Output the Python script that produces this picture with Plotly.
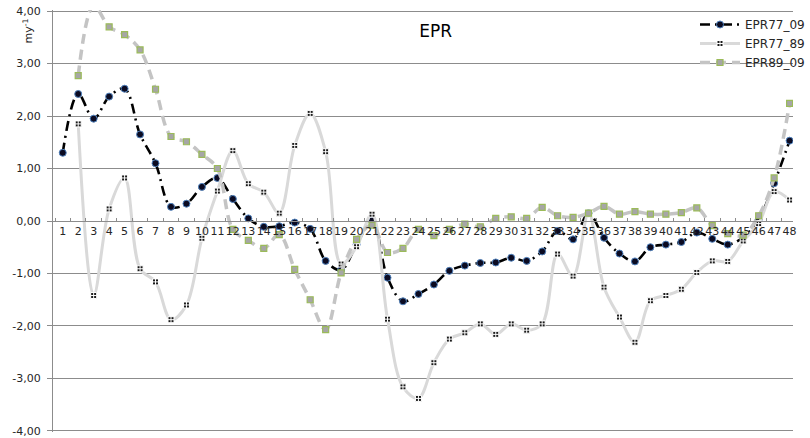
import plotly.graph_objects as go

# Point numbers along the shoreline (transects 1..48)
transects = [str(i) for i in range(1, 49)]

# End Point Rate, m/yr, per transect
epr77_09 = [1.30, 2.42, 1.95, 2.37, 2.52, 1.65, 1.10, 0.27, 0.33, 0.65,
            0.82, 0.42, 0.05, -0.11, -0.10, -0.03, -0.15, -0.76, -0.93, -0.45,
            0.01, -1.08, -1.53, -1.39, -1.21, -0.95, -0.85, -0.80, -0.79, -0.70,
            -0.76, -0.58, -0.19, -0.35, 0.15, -0.32, -0.62, -0.77, -0.50, -0.45,
            -0.40, -0.22, -0.34, -0.45, -0.31, 0.03, 0.72, 1.53]

epr77_89 = [None, 1.85, -1.42, 0.23, 0.82, -0.91, -1.16, -1.88, -1.60, -0.33,
            0.57, 1.34, 0.71, 0.55, 0.15, 1.44, 2.05, 1.32, -0.82, -0.49,
            0.13, -1.87, -3.16, -3.38, -2.70, -2.25, -2.13, -1.96, -2.16, -1.96,
            -2.08, -1.96, -0.63, -1.05, 0.15, -1.26, -1.83, -2.31, -1.52, -1.42,
            -1.30, -0.98, -0.76, -0.77, -0.38, -0.05, 0.56, 0.40]

epr89_09 = [None, 2.77, 4.10, 3.70, 3.55, 3.26, 2.51, 1.61, 1.51, 1.27,
            1.00, -0.16, -0.37, -0.52, -0.26, -0.92, -1.50, -2.07, -0.99, -0.35,
            -0.08, -0.60, -0.52, -0.16, -0.28, -0.16, -0.06, -0.11, 0.05, 0.08,
            0.05, 0.26, 0.10, 0.07, 0.15, 0.28, 0.13, 0.18, 0.13, 0.13,
            0.16, 0.25, -0.09, -0.24, -0.27, 0.10, 0.82, 2.24]

y_ticks = [-4, -3, -2, -1, 0, 1, 2, 3, 4]
y_ticktext = ["-4,00", "-3,00", "-2,00", "-1,00", "0,00", "1,00", "2,00", "3,00", "4,00"]

FONT = "DejaVu Sans"
TEXT = "#262626"

fig = go.Figure()

fig.add_trace(go.Scatter(
    x=transects, y=epr77_09, name="EPR77_09", mode="lines+markers",
    line=dict(color="#000000", width=2.6, dash="10px,5px,2px,5px", shape="spline", smoothing=1),
    marker=dict(symbol="circle", size=7, color="#0b0b22", line=dict(color="#4f81bd", width=1)),
    legendrank=1,
))
fig.add_trace(go.Scatter(
    x=transects, y=epr77_89, name="EPR77_89", mode="lines+markers",
    line=dict(color="#d9d9d9", width=3, shape="spline", smoothing=1),
    marker=dict(symbol="square-cross", size=6, color="#1a1a1a", line=dict(color="#ffffff", width=1)),
    legendrank=2,
))
fig.add_trace(go.Scatter(
    x=transects, y=epr89_09, name="EPR89_09", mode="lines+markers",
    line=dict(color="#c4c4c4", width=3.5, dash="10px,6px", shape="spline", smoothing=1),
    marker=dict(symbol="square", size=6, color="#a6a6a6", line=dict(color="#9bbb59", width=1.2)),
    legendrank=3,
))

fig.update_layout(
    width=810, height=438,
    margin=dict(l=53, r=0, t=10, b=4),
    paper_bgcolor="white", plot_bgcolor="white",
    font=dict(family=FONT, size=11, color=TEXT),
    title=dict(text="EPR", x=0.538, xanchor="center", y=0.93, yanchor="middle",
               font=dict(family=FONT, size=17, color="#000000")),
    showlegend=True,
    legend=dict(x=0.868, xanchor="left", y=1.0, yanchor="top",
                bgcolor="rgba(0,0,0,0)", font=dict(size=12, color=TEXT),
                tracegroupgap=0, itemwidth=40),
    annotations=[dict(text="my<sup>-1</sup>", xref="paper", yref="paper",
                      x=-0.033, y=0.985, xanchor="center", yanchor="top",
                      textangle=-90, showarrow=False,
                      font=dict(family=FONT, size=11, color=TEXT))],
)

fig.update_xaxes(
    type="category", range=[-0.63, 47.22],
    anchor="free", position=0.5,
    tickmode="linear", tick0=0, dtick=1, tickangle=0,
    tickson="boundaries", ticks="inside", ticklen=3, tickcolor="#8c8c8c",
    showline=True, linecolor="#8c8c8c", linewidth=1,
    showgrid=False, zeroline=False,
    tickfont=dict(size=11, color=TEXT),
)
fig.update_yaxes(
    range=[-4.02, 4.02], tickmode="array", tickvals=y_ticks, ticktext=y_ticktext,
    showgrid=True, gridcolor="#8c8c8c", gridwidth=1,
    zeroline=False, showline=True, linecolor="#8c8c8c", linewidth=1,
    ticks="outside", ticklen=5, tickcolor="#8c8c8c", ticklabelstandoff=4,
    ticklabeloverflow="allow",
    tickfont=dict(size=11, color=TEXT),
)

fig.write_html("out.html")
